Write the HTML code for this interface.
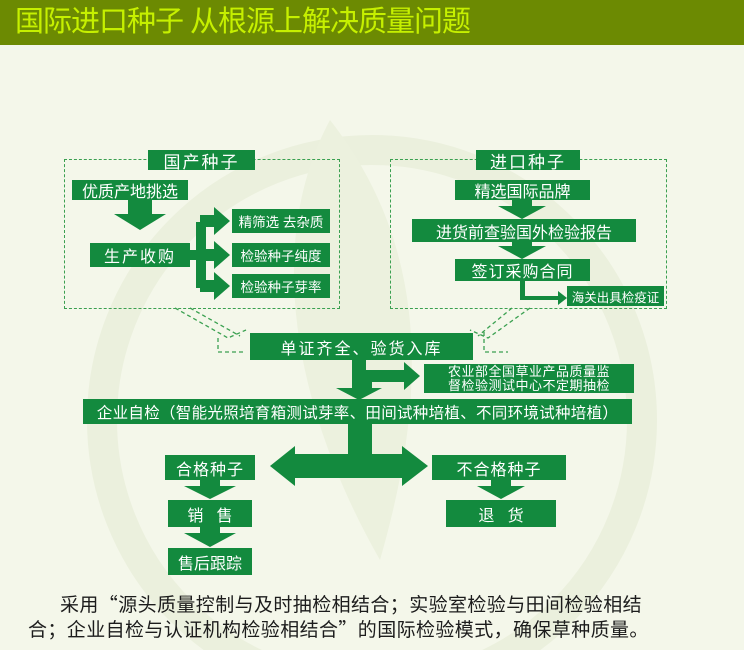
<!DOCTYPE html>
<html><head><meta charset="utf-8"><style>
body{margin:0;width:744px;height:650px;overflow:hidden;background:#f4f7ea;font-family:"Liberation Sans","Noto Sans CJK SC",sans-serif;position:relative}
.hd{position:absolute;left:0;top:0;width:744px;height:45px;background:#6c8a02;overflow:hidden}
.hd span{position:absolute;left:15px;top:4px;color:#c6f000;font-size:29px;line-height:36px;letter-spacing:-1px;white-space:nowrap}
.b{position:absolute;background:#138a3e;color:#fff;display:flex;align-items:center;justify-content:center;white-space:nowrap;font-size:16px}
.d{position:absolute;border:1.5px dashed #3aa050}
.t{position:absolute;font-family:"Noto Sans CJK SC",sans-serif;font-size:19px;line-height:24px;color:#1c1c1c;white-space:nowrap;letter-spacing:0.4px}
svg{position:absolute;left:0;top:0}
</style></head><body>
<svg width="744" height="650">
<circle cx="372" cy="420" r="270" fill="none" stroke="#ebf0dd" stroke-width="30"/>
<path d="M330 120 C260 250 300 420 380 560 C420 420 440 260 330 120Z" fill="#ecf1de"/>
</svg>
<div class="hd"><span>国际进口种子 从根源上解决质量问题</span></div>
<div class="d" style="left:64px;top:159px;width:274px;height:148px"></div>
<div class="d" style="left:390px;top:159px;width:275px;height:148px"></div>
<svg width="744" height="650">
<g fill="#138a3e">
<polygon points="128,200 152,200 152,214 166,214 140,230 114,214 128,214"/>
<rect x="190" y="250" width="10" height="10"/>
<rect x="196" y="222" width="10" height="66"/>
<polygon points="200,215 214,215 214,207 230,221 214,235 214,227 200,227"/>
<polygon points="200,249 214,249 214,241 230,255 214,269 214,261 200,261"/>
<polygon points="200,280 214,280 214,272 230,286 214,300 214,292 200,292"/>
<polygon points="512,200 532,200 532,206 546,206 522,219 498,206 512,206"/>
<polygon points="512,242 532,242 532,246 546,246 522,259 498,246 512,246"/>
<polygon points="520,281 525,281 525,296 558,296 558,291 567,298 558,305 558,300 520,300"/>
<polygon points="352,360 366,360 366,370 404,370 404,362 420,376 404,390 404,382 372,382 372,388 382,388 359,400 336,388 352,388"/>
<rect x="348" y="424" width="24" height="30"/>
<polygon points="372,454 295,454 295,446 270,466 295,486 295,478 402,478 402,486 428,466 402,446 402,454 372,454"/>
<polygon points="200,480 220,480 220,486 236,486 210,499 184,486 200,486"/>
<polygon points="200,527 220,527 220,533 236,533 210,547 184,533 200,533"/>
<polygon points="491,480 511,480 511,486 525,486 501,499 477,486 491,486"/>
</g>
<g fill="none" stroke="#3aa050" stroke-width="1.3" stroke-dasharray="4,3">
<path d="M175 308 L228 338 L246 330 M190 308 L240 336"/>
<path d="M218 338 L218 352 L246 352"/>
<path d="M530 308 L488 338 L470 330 M512 308 L478 336"/>
<path d="M484 332 L484 352 L508 352"/>
</g>
</svg>
<div class="b" style="left:148px;top:150px;width:107px;height:20px;font-size:17px;letter-spacing:2px">国产种子</div>
<div class="b" style="left:476px;top:150px;width:104px;height:20px;font-size:17px;letter-spacing:2px">进口种子</div>
<div class="b" style="left:72px;top:180px;width:116px;height:20px">优质产地挑选</div>
<div class="b" style="left:90px;top:243px;width:100px;height:24px;letter-spacing:2px">生产收购</div>
<div class="b" style="left:232px;top:209px;width:98px;height:24px;font-size:13.5px">精筛选 去杂质</div>
<div class="b" style="left:232px;top:243px;width:98px;height:24px;font-size:13.5px">检验种子纯度</div>
<div class="b" style="left:232px;top:274px;width:98px;height:24px;font-size:13.5px">检验种子芽率</div>
<div class="b" style="left:455px;top:180px;width:135px;height:20px">精选国际品牌</div>
<div class="b" style="left:412px;top:219px;width:224px;height:23px">进货前查验国外检验报告</div>
<div class="b" style="left:455px;top:259px;width:135px;height:22px;letter-spacing:1px">签订采购合同</div>
<div class="b" style="left:567px;top:286px;width:97px;height:20px;font-size:12.5px">海关出具检疫证</div>
<div class="b" style="left:250px;top:333px;width:223px;height:27px;letter-spacing:2px">单证齐全、验货入库</div>
<div class="b" style="left:424px;top:364px;width:210px;height:29px;font-size:13px;line-height:14px;text-align:center;white-space:normal;letter-spacing:0.5px">农业部全国草业产品质量监<br>督检验测试中心不定期抽检</div>
<div class="b" style="left:83px;top:399px;width:549px;height:25px;font-size:15.5px;letter-spacing:0.3px">企业自检（智能光照培育箱测试芽率、田间试种培植、不同环境试种培植）</div>
<div class="b" style="left:165px;top:455px;width:90px;height:25px;letter-spacing:1px">合格种子</div>
<div class="b" style="left:432px;top:455px;width:134px;height:25px;letter-spacing:1px">不合格种子</div>
<div class="b" style="left:168px;top:500px;width:84px;height:27px">销&nbsp;&nbsp;&nbsp;售</div>
<div class="b" style="left:446px;top:500px;width:110px;height:27px">退&nbsp;&nbsp;&nbsp;货</div>
<div class="b" style="left:168px;top:548px;width:84px;height:27px">售后跟踪</div>
<div class="t" style="left:60px;top:592px">采用“源头质量控制与及时抽检相结合；实验室检验与田间检验相结</div>
<div class="t" style="left:28px;top:617px">合；企业自检与认证机构检验相结合”的国际检验模式，确保草种质量。</div>
</body></html>
